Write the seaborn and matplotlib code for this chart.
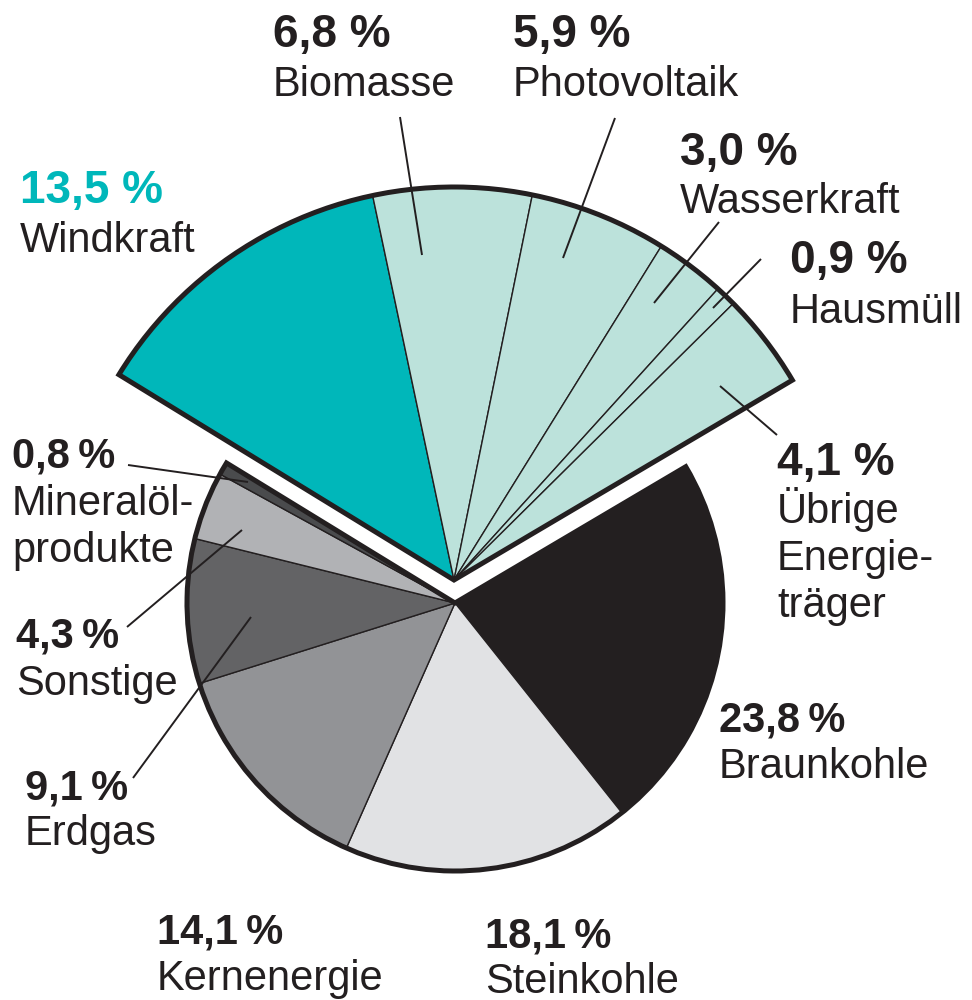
import matplotlib
matplotlib.use("Agg")
import matplotlib.pyplot as plt
from matplotlib.patches import Wedge
import seaborn as sns

# Shares of gross electricity generation (percent)
renewable_names = ["Windkraft", "Biomasse", "Photovoltaik", "Wasserkraft",
                   "Hausmüll", "Übrige\nEnergie-\nträger"]
renewable_shares = [13.5, 6.8, 5.9, 3.0, 0.9, 4.1]

conventional_names = ["Braunkohle", "Steinkohle", "Kernenergie", "Erdgas",
                      "Sonstige", "Mineralöl-\nprodukte"]
conventional_shares = [23.8, 18.1, 14.1, 9.1, 4.3, 0.8]

INK = "#231F20"
TEAL = "#00B7BA"
MINT = "#BCE2DB"
renewable_colors = [TEAL, MINT, MINT, MINT, MINT, MINT]
conventional_colors = ["#231F20", "#E1E2E4", "#929396", "#636365", "#B1B2B5", "#4A4B4D"]

# Layout (pixel coordinates measured from the top-left corner)
W, H = 972, 1000
START = 148.5
REN_CENTER, REN_RADIUS = (454, 580), 393
CON_CENTER, CON_RADIUS = (455, 603), 268
LINE_STEP = 47

# label anchor: (left x, baseline of percentage, baseline of first name line)
renewable_label_pos = [(20, 203, 252), (273, 47, 96), (513, 47, 96),
                       (680, 165, 213), (790, 273, 323), (777, 475, 523)]
conventional_label_pos = [(719, 732, 778), (485, 948, 993), (157, 944, 990),
                          (25, 800, 845), (16, 647, 695), (12, 467, 515)]
# large percentage style vs. compact style
renewable_large = [True, True, True, True, True, True]
conventional_large = [False] * 6
renewable_leaders = [None, ((400, 117), (422, 255)), ((615, 118), (563, 258)),
                     ((719, 222), (654, 303)), ((761, 259), (713, 308)),
                     ((720, 386), (777, 435))]
conventional_leaders = [None, None, None,
                        ((133, 778), (251, 617)), ((127, 627), (242, 530)),
                        ((128, 465), (248, 482))]

sns.set_style("white")
plt.rcParams["font.family"] = ["Liberation Sans", "DejaVu Sans"]

fig = plt.figure(figsize=(W / 100, H / 100), dpi=100)
ax = fig.add_axes([0, 0, 1, 1])


def flip(pt):
    return (pt[0], H - pt[1])


total = sum(renewable_shares) + sum(conventional_shares)
ren_span = 360 * sum(renewable_shares) / total
con_span = 360 * sum(conventional_shares) / total

groups = [
    (renewable_shares, renewable_colors, START, REN_CENTER, REN_RADIUS, ren_span),
    (conventional_shares, conventional_colors, START - ren_span, CON_CENTER, CON_RADIUS, con_span),
]
for shares, colors, start, center, radius, span in groups:
    ax.pie([s / total for s in shares], colors=colors, startangle=start,
           counterclock=False, normalize=False, center=flip(center),
           radius=radius, frame=True,
           wedgeprops=dict(linewidth=1.0, edgecolor=INK, joinstyle="miter"))
    ax.add_patch(Wedge(flip(center), radius, start - span, start, fill=False,
                       edgecolor=INK, linewidth=3.6, joinstyle="miter", zorder=5))


def put_labels(names, shares, positions, large, leaders, pct_colors):
    for name, share, (x, yp, yn), big, lead, col in zip(
            names, shares, positions, large, leaders, pct_colors):
        value = f"{share:.1f}".replace(".", ",")
        if big:
            ax.text(x, H - yp, value + " %", fontsize=33,
                    fontweight="bold", color=col, ha="left", va="baseline")
        else:
            ax.text(x, H - yp, value + "\u2009%", fontsize=30,
                    fontweight="bold", color=col, ha="left", va="baseline")
        for i, line in enumerate(name.split("\n")):
            ax.text(x, H - (yn + i * LINE_STEP), line, fontsize=30, color=INK,
                    ha="left", va="baseline")
        if lead is not None:
            (x0, y0), (x1, y1) = lead
            ax.plot([x0, x1], [H - y0, H - y1], color=INK, linewidth=1.4,
                    solid_capstyle="butt", zorder=6)


put_labels(renewable_names, renewable_shares, renewable_label_pos,
           renewable_large, renewable_leaders, [TEAL] + [INK] * 5)
put_labels(conventional_names, conventional_shares, conventional_label_pos,
           conventional_large, conventional_leaders, [INK] * 6)

ax.set_xlim(0, W)
ax.set_ylim(0, H)
ax.set_aspect("equal")
ax.axis("off")
fig.savefig("out.png", dpi=100, facecolor="white")
